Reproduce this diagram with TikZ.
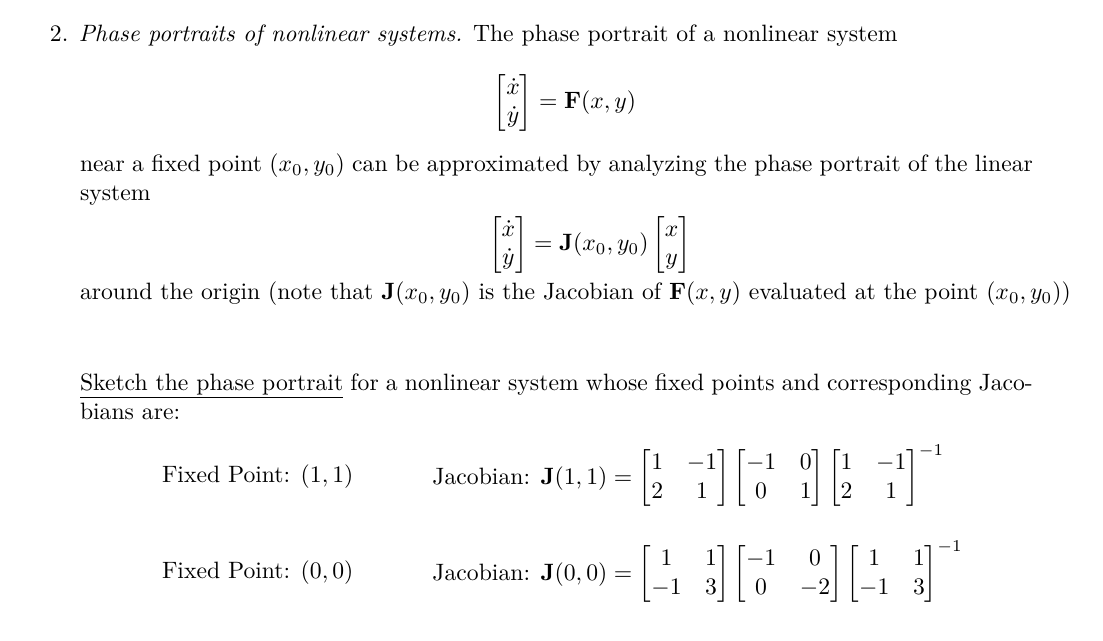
\documentclass[tikz,border=0pt]{standalone}
\usepackage{amsmath}
\tikzset{txt/.style={anchor=base west,inner sep=0pt,outer sep=0pt}}
\newcommand{\jline}[2]{\makebox[#1][s]{#2}}
\begin{document}
\begin{tikzpicture}[x=0.4225pt,y=-0.4225pt]
\useasboundingbox (0,0) rectangle (1103,641);
\node[txt] (l1) at (50,42) {2. \emph{Phase portraits of nonlinear systems.} The phase portrait of a nonlinear system};
\node[inner sep=0pt] (e1) at (565,103) {$\begin{bmatrix}\dot x\\ \dot y\end{bmatrix}=\mathbf{F}(x,y)$};
\node[txt] (l2) at (80,172) {\jline{402.6pt}{near a fixed point $(x_0,y_0)$ can be approximated by analyzing the phase portrait of the linear}};
\node[txt] (l3) at (80,201) {system};
\node[inner sep=0pt] (e2) at (590,245) {$\begin{bmatrix}\dot x\\ \dot y\end{bmatrix}=\mathbf{J}(x_0,y_0)\begin{bmatrix}x\\ y\end{bmatrix}$};
\node[txt] (l4) at (80,300) {around the origin (note that $\mathbf{J}(x_0,y_0)$ is the Jacobian of $\mathbf{F}(x,y)$ evaluated at the point $(x_0,y_0)$)};
\node[txt] (l5) at (80,390) {\jline{402.6pt}{\underline{Sketch the phase portrait} for a nonlinear system whose fixed points and corresponding Jaco-}};
\node[txt] (l6) at (80,419) {bians are:};
\node[txt] (f1) at (162,482) {Fixed Point: $(1,1)$};
\node[anchor=west,inner sep=0pt] (j1) at (432,476) {Jacobian: $\mathbf{J}(1,1)=\begin{bmatrix}1&-1\\2&1\end{bmatrix}\begin{bmatrix}-1&0\\0&1\end{bmatrix}\begin{bmatrix}1&-1\\2&1\end{bmatrix}^{-1}$};
\node[txt] (f2) at (162,578) {Fixed Point: $(0,0)$};
\node[anchor=west,inner sep=0pt] (j2) at (432,572) {Jacobian: $\mathbf{J}(0,0)=\begin{bmatrix}1&1\\-1&3\end{bmatrix}\begin{bmatrix}-1&0\\0&-2\end{bmatrix}\begin{bmatrix}1&1\\-1&3\end{bmatrix}^{-1}$};
\end{tikzpicture}
\end{document}
